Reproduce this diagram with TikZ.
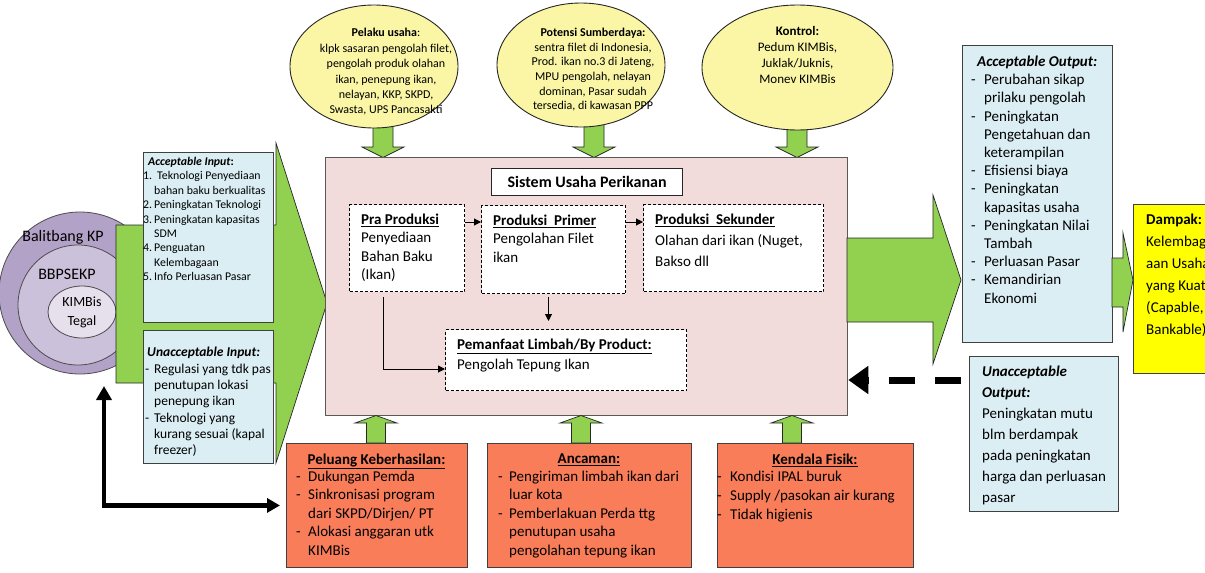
\documentclass[tikz,border=0pt]{standalone}
\usepackage{fontspec}
\setmainfont{Carlito}
\usetikzlibrary{arrows.meta,shapes.geometric}
\definecolor{grn}{HTML}{92D050}
\definecolor{lblue}{HTML}{DBEEF4}
\definecolor{pinkbg}{HTML}{F2DCDB}
\definecolor{ylw}{RGB}{250,246,165}
\definecolor{orng}{RGB}{250,125,90}
\definecolor{dyel}{HTML}{FFFF00}
\definecolor{purA}{HTML}{B3A2C7}
\definecolor{purB}{HTML}{CCC1DA}
\definecolor{purC}{HTML}{E6E0EC}
\newcommand\setfs[2]{\fontsize{#1}{#2}\selectfont}
\newcommand\dashit[1]{\makebox[#1][l]{-}}
\newcommand\contin[1]{\hspace*{#1}}
\newcommand\greendown[1]{\draw[blockarrow] ({#1-10},118) -- ({#1+10},118) -- ({#1+10},147) -- ({#1+21},147) -- (#1,157.5) -- ({#1-21},147) -- ({#1-10},147) -- cycle;}
\newcommand\greenup[1]{\draw[blockarrow] ({#1-9.5},443) -- ({#1+9.5},443) -- ({#1+9.5},423) -- ({#1+21},423) -- (#1,415.5) -- ({#1-21},423) -- ({#1-9.5},423) -- cycle;}
\begin{document}
\begin{tikzpicture}[x=1pt,y=-1pt]
\tikzset{
  blockarrow/.style={fill=grn, draw=black!85, line width=0.7pt, line join=miter},
  bluebox/.style={rectangle, draw=black!75, fill=lblue, line width=0.9pt, inner sep=0pt, anchor=north west},
  orangebox/.style={rectangle, draw=black!75, fill=orng, line width=0.9pt, inner sep=0pt, anchor=north west},
  dashbox/.style={rectangle, draw=black, dash pattern=on 3pt off 2pt, fill=white, line width=1pt, inner sep=0pt, anchor=north west},
  yellowell/.style={ellipse, draw=black!85, fill=ylw, line width=0.9pt, inner sep=0pt},
  txt/.style={anchor=north west, inner sep=0pt, align=left},
  ctxt/.style={anchor=north, inner sep=0pt, align=center},
  flow/.style={line width=1pt, -{Triangle[length=7pt,width=7pt]}},
}
\useasboundingbox (0,0) rectangle (1205,573);
\clip (0,0) rectangle (1205,573);
\fill[white] (0,0) rectangle (1205,573);

% ---- left circles
\node[circle, draw=black!70, fill=purA, line width=0.8pt, minimum size=162pt, inner sep=0pt] (balit) at (80,293) {};
\node[circle, draw=black!70, fill=purB, line width=0.8pt, minimum size=120pt, inner sep=0pt] (bbp) at (78,305) {};
\node[ellipse, draw=black!70, fill=purC, line width=0.8pt, minimum width=68pt, minimum height=52pt, inner sep=0pt, align=center, font=\setfs{14}{19}] (kimbis) at (82,312) {KIMBis\\Tegal};
\node[font=\setfs{16}{19}, inner sep=0pt] (balitlbl) at (63,237) {Balitbang KP};
\node[font=\setfs{16}{19}, inner sep=0pt] (bbplbl) at (67,274) {BBPSEKP};

% ---- big left arrow
\draw[blockarrow] (116,225) -- (276,225) -- (276,143) -- (327,303) -- (276,463) -- (276,383) -- (116,383) -- cycle;

% ---- input boxes
\node[bluebox, minimum width=130pt, minimum height=170pt] (ai) at (143,152) {};
\node[txt, font=\setfs{11.8}{14.4}] (aitxt) at (143,157) {\contin{5pt}\textbf{\textit{Acceptable Input}:}\\\makebox[14pt][l]{1.}Teknologi Penyediaan\\\contin{11pt}bahan baku berkualitas\\\makebox[11pt][l]{2.}Peningkatan Teknologi\\\makebox[11pt][l]{3.}Peningkatan kapasitas\\\contin{11pt}SDM\\\makebox[11pt][l]{4.}Penguatan\\\contin{11pt}Kelembagaan\\\makebox[11pt][l]{5.}Info Perluasan Pasar};

\node[bluebox, minimum width=130pt, minimum height=133pt] (ui) at (143,330) {};
\node[txt, font=\setfs{13.5}{16.3}] (uitxt) at (145,347.3) {\contin{2pt}\textbf{\textit{Unacceptable Input:}}\\\dashit{9pt}Regulasi yang tdk pas\\\contin{9pt}penutupan lokasi\\\contin{9pt}penepung ikan\\\dashit{9pt}Teknologi yang\\\contin{9pt}kurang sesuai (kapal\\\contin{9pt}freezer)};

% ---- green arrows from ellipses and to bottom
\greendown{383}
\greendown{594}
\greendown{797}

% ---- central system box
\node[rectangle, draw=black!65, fill=pinkbg, line width=1.3pt, minimum width=522pt, minimum height=258pt, anchor=north west, inner sep=0pt] (sys) at (325,157) {};
\node[rectangle, draw=black!85, fill=white, line width=1.2pt, minimum width=191pt, minimum height=27pt, font=\bfseries\setfs{16}{19}, anchor=north west, inner sep=0pt] (title) at (491,168) {Sistem Usaha Perikanan};

\node[dashbox, minimum width=115pt, minimum height=87pt] (pra) at (349,204) {};
\node[dashbox, minimum width=144pt, minimum height=88pt] (primer) at (481,205) {};
\node[dashbox, minimum width=180pt, minimum height=87pt] (sek) at (643,204) {};
\node[dashbox, minimum width=241pt, minimum height=61pt] (pem) at (445,329) {};

\node[txt, font=\setfs{15}{18.3}] (pratxt) at (361,213.7) {\underline{\textbf{Pra Produksi}}\\Penyediaan\\Bahan Baku\\(Ikan)};
\node[txt, font=\setfs{15}{18.2}] (primertxt) at (493,215) {\underline{\textbf{Produksi\ \ Primer}}\\Pengolahan Filet\\ikan};
\node[txt, font=\setfs{15}{20.8}] (sektxt) at (655,214) {\underline{\textbf{Produksi\ \ Sekunder}}\\Olahan dari ikan (Nuget,\\Bakso dll};
\node[txt, font=\setfs{15}{20}] (pemtxt) at (457,339) {\underline{\textbf{Pemanfaat Limbah/By Product:}}\\Pengolah Tepung Ikan};

\coordinate (f1) at ([yshift=-18pt]pra.north east);
\draw[flow] (f1) -- (f1 -| primer.west);
\coordinate (f2) at ([yshift=-17pt]primer.north east);
\draw[flow] (f2) -- (f2 -| sek.west);
\coordinate (f3) at ([xshift=-5pt,yshift=-3pt]primer.south);
\draw[flow, shorten >=8pt] (f3) -- (f3 |- pem.north);
\coordinate (f4) at ([xshift=34pt,yshift=-5pt]pra.south west);
\coordinate (f5) at ([yshift=-9pt]pem.west);
\draw[flow] (f4) |- (f5);

% ---- ellipses
\node[yellowell, minimum width=168pt, minimum height=123pt] (pelaku) at (374,66.5) {};
\node[ctxt, font=\setfs{12}{15.4}] (pelakutxt) at (386,28.3) {\textbf{Pelaku usaha}:\\klpk sasaran pengolah filet,\\pengolah produk olahan\\ikan, penepung ikan,\\nelayan, KKP, SKPD,\\Swasta, UPS Pancasakti};
\node[yellowell, minimum width=168pt, minimum height=124pt] (potensi) at (581,65) {};
\node[ctxt, font=\setfs{12}{14.7}] (potensitxt) at (593,27.7) {\textbf{Potensi Sumberdaya:}\\sentra filet di Indonesia,\\Prod. ikan no.3 di Jateng,\\MPU pengolah, nelayan\\dominan, Pasar sudah\\tersedia, di kawasan PPP};
\node[yellowell, minimum width=191pt, minimum height=125pt] (kontrol) at (797.5,67.5) {};
\node[ctxt, font=\setfs{13}{16}] (kontroltxt) at (797.5,26.2) {\textbf{Kontrol:}\\Pedum KIMBis,\\Juklak/Juknis,\\Monev KIMBis};

% ---- right side
\draw[blockarrow] (847,238) -- (933,238) -- (933,195) -- (961,280) -- (933,364) -- (933,322) -- (847,322) -- cycle;
\node[bluebox, minimum width=150pt, minimum height=297pt] (ao) at (962,45) {};
\node[txt, font=\setfs{15}{18.2}] (aotxt) at (971,55.7) {\contin{6pt}\textbf{\textit{Acceptable Output:}}\\\dashit{13pt}Perubahan sikap\\\contin{13pt}prilaku pengolah\\\dashit{13pt}Peningkatan\\\contin{13pt}Pengetahuan dan\\\contin{13pt}keterampilan\\\dashit{13pt}Efisiensi biaya\\\dashit{13pt}Peningkatan\\\contin{13pt}kapasitas usaha\\\dashit{13pt}Peningkatan Nilai\\\contin{13pt}Tambah\\\dashit{13pt}Perluasan Pasar\\\dashit{13pt}Kemandirian\\\contin{13pt}Ekonomi};

\draw[blockarrow] (1112,258) -- (1123,258) -- (1123,233) -- (1133,280) -- (1123,332) -- (1123,307) -- (1112,307) -- cycle;
\node[rectangle, draw=black!75, fill=dyel, line width=0.9pt, minimum width=90pt, minimum height=169pt, anchor=north west, inner sep=0pt] (dampak) at (1133,204) {};
\node[txt, font=\setfs{15}{22}] (dampaktxt) at (1146,213.7) {\textbf{Dampak:}\\Kelembag\\aan Usaha\\yang Kuat\\(Capable,\\Bankable)};

\node[bluebox, minimum width=149pt, minimum height=155pt] (uo) at (969,356) {};
\node[txt, font=\setfs{15}{21}] (uotxt) at (982,365.7) {\textbf{\textit{Unacceptable}}\\\textbf{\textit{Output:}}\\Peningkatan mutu\\blm berdampak\\pada peningkatan\\harga dan perluasan\\pasar};

\coordinate (ds) at (961,380);
\draw[line width=7pt, dash pattern=on 26pt off 20pt, -{Triangle[length=20pt,width=27pt]}] (ds) -- (ds -| sys.east);

% ---- bottom
\greenup{376}
\greenup{581}
\greenup{792}
\node[orangebox, minimum width=181pt, minimum height=124pt] (peluang) at (286,443) {};
\node[orangebox, minimum width=204pt, minimum height=124pt] (ancaman) at (487,443) {};
\node[orangebox, minimum width=196pt, minimum height=124pt] (kendala) at (717,443) {};

\node[ctxt, font=\setfs{15}{18}] (peltitle) at (376.5,453.7) {\underline{\textbf{Peluang Keberhasilan:}}};
\node[txt, font=\setfs{15}{18.5}] (peltxt) at (296,470.7) {\dashit{12pt}Dukungan Pemda\\\dashit{12pt}Sinkronisasi program\\\contin{12pt}dari SKPD/Dirjen/ PT\\\dashit{12pt}Alokasi anggaran utk\\\contin{12pt}KIMBis};
\node[ctxt, font=\setfs{15}{18}] (anctitle) at (589,453.7) {\underline{\textbf{Ancaman:}}};
\node[txt, font=\setfs{15}{18.5}] (anctxt) at (498,470.7) {\dashit{11pt}Pengiriman limbah ikan dari\\\contin{11pt}luar kota\\\dashit{11pt}Pemberlakuan Perda ttg\\\contin{11pt}penutupan usaha\\\contin{11pt}pengolahan tepung ikan};
\node[ctxt, font=\setfs{15}{18}] (kentitle) at (815,453.7) {\underline{\textbf{Kendala Fisik:}}};
\node[txt, font=\setfs{15}{19}] (kentxt) at (717,470.7) {\dashit{13pt}Kondisi IPAL buruk\\\dashit{13pt}Supply /pasokan air kurang\\\dashit{13pt}Tidak higienis};

\coordinate (lup) at (104,386);
\draw[line width=4.5pt, {Triangle[length=14pt,width=15pt]}-{Triangle[length=13pt,width=14pt]}, shorten >=6pt] (lup) |- (peluang.west);
\end{tikzpicture}
\end{document}
